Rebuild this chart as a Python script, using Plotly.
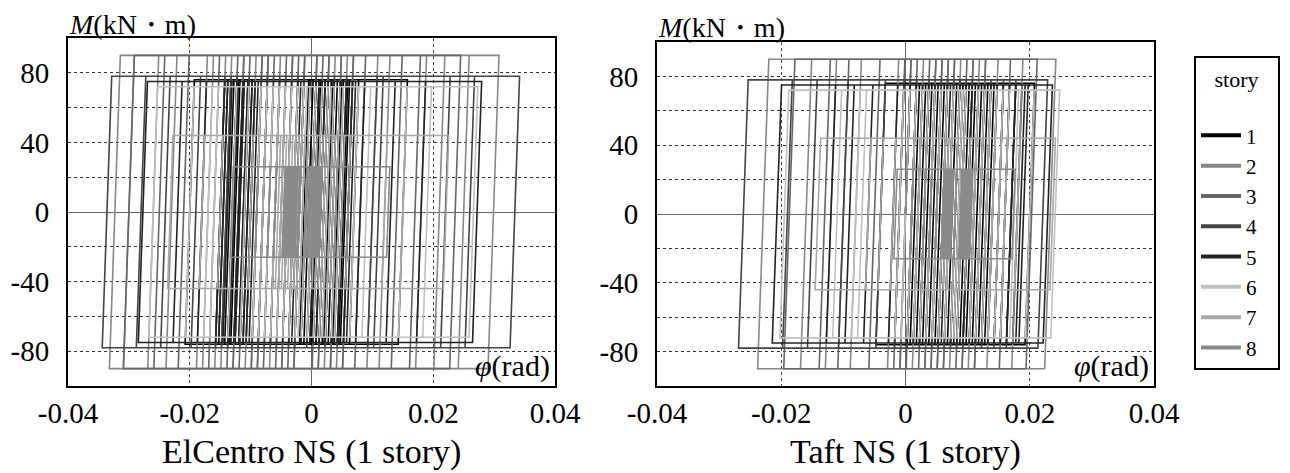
import plotly.graph_objects as go

# ---------------- data ----------------
stories = ["1", "2", "3", "4", "5", "6", "7", "8"]
story_colors = ["#000000", "#888888", "#666666", "#444444", "#222222", "#c0c0c0", "#a8a8a8", "#8a8a8a"]
# yield moments (kN·m) per story
yield_moment = [76, 90, 90, 78, 75, 72, 44, 26]
# elastic rotational stiffness (kN·m/rad)
K = 100000.0

# plastic rotation at each reversal (rad), ElCentro NS
ec_s1 = [0.0030, -0.0020, 0.0050, -0.0110, -0.0060, -0.0140, -0.0120, -0.0200, -0.0130, -0.0150,
         -0.0100, -0.0125, -0.0080, -0.0118, 0.0020, -0.0010, 0.0060, 0.0010, 0.0150, 0.0040,
         0.0070, -0.0005, 0.0035, 0.0000, 0.0045, 0.0015, 0.0055, 0.0025, 0.0030,
         -0.0135, -0.0105, -0.0145, -0.0112, -0.0128, 0.0005, -0.0020, 0.0042, 0.0008, 0.0052,
         -0.0012, 0.0028]
ec_s2 = [0.0040, -0.0060, 0.0020, -0.0150, -0.0080, -0.0230, -0.0170, -0.0323, -0.0260, -0.0300,
         -0.0120, -0.0180, 0.0050, -0.0020, 0.0180, 0.0100, 0.0299, 0.0210, 0.0250, 0.0060,
         0.0120, -0.0040, 0.0030, -0.0100, -0.0060, -0.0140, -0.0090]
ec_s3 = [0.0060, -0.0040, 0.0010, -0.0130, -0.0090, -0.0300, -0.0210, -0.0250, -0.0110, -0.0160,
         0.0080, 0.0020, 0.0236, 0.0140, 0.0170, -0.0020, 0.0040, -0.0070, -0.0030, -0.0120,
         -0.0050, -0.0080]
ec_s4 = [0.0020, -0.0080, -0.0030, -0.0190, -0.0140, -0.0336, -0.0240, -0.0280, -0.0090, -0.0150,
         0.0100, 0.0030, 0.0334, 0.0220, 0.0260, 0.0050, 0.0110, -0.0060, 0.0000, -0.0130,
         -0.0070, -0.0110, -0.0020, -0.0050]
ec_s5 = [0.0050, -0.0030, 0.0020, -0.0120, -0.0100, -0.0277, -0.0180, -0.0220, -0.0130, -0.0145,
         0.0060, -0.0010, 0.0272, 0.0130, 0.0180, 0.0030, 0.0080, -0.0040, 0.0010, -0.0105,
         -0.0095, -0.0128, -0.0112, -0.0150, -0.0118, -0.0138, 0.0040, 0.0005, 0.0065, -0.0025,
         0.0015]
ec_s6 = [0.0040, -0.0050, -0.0010, -0.0170, -0.0110, -0.0260, -0.0160, -0.0200, -0.0060, -0.0090,
         0.0070, 0.0000, 0.0266, 0.0150, 0.0190, 0.0020, 0.0090, -0.0030, 0.0030, -0.0080,
         -0.0040, -0.0070, -0.0020, -0.0110, -0.0040, -0.0130, 0.0010, -0.0050, 0.0045, -0.0015,
         0.0025]
ec_s7 = [0.0030, -0.0040, 0.0010, -0.0100, -0.0060, -0.0232, -0.0150, -0.0180, -0.0050, -0.0080,
         0.0050, -0.0020, 0.0221, 0.0120, 0.0150, 0.0000, 0.0060, -0.0035, 0.0040, -0.0025,
         0.0020, -0.0045, 0.0005, -0.0030, 0.0030, -0.0055, 0.0010, -0.0040, 0.0035, -0.0010,
         0.0015, -0.0060, -0.0015]
ec_s8 = [0.0010, -0.0030, -0.0005, -0.0060, -0.0020, -0.0131, -0.0070, -0.0090, -0.0030, -0.0046,
         0.0015, -0.0040, 0.0126, 0.0040, 0.0060, -0.0010, 0.0012, -0.0038, 0.0008, -0.0042,
         0.0005, -0.0035, 0.0010, -0.0044, 0.0002, -0.0028, 0.0014, -0.0040, -0.0004, -0.0036,
         0.0006, -0.0025, 0.0012, -0.0045, -0.0008, -0.0032, 0.0009, -0.0020, 0.0011, -0.0043,
         0.0004, -0.0039, 0.0013, -0.0033, 0.0007, -0.0046, 0.0003, -0.0027, 0.0015, -0.0041,
         -0.0002, -0.0037, 0.0010, -0.0030, 0.0012, -0.0044, 0.0001, -0.0022]

# plastic rotation at each reversal (rad), Taft NS
tf_s1 = [0.0040, 0.0010, 0.0080, 0.0030, 0.0120, 0.0050, 0.0090, -0.0040, 0.0020, -0.0010,
         0.0150, 0.0100, 0.0200, 0.0110, 0.0140, 0.0060, 0.0130, 0.0070, 0.0170, 0.0095,
         0.0125, 0.0085, 0.0180, 0.0115, 0.0135, 0.0045, 0.0105, 0.0015, 0.0075, 0.0035,
         0.0160, 0.0055, 0.0110, 0.0025, 0.0090]
tf_s2 = [0.0050, 0.0000, 0.0100, -0.0080, -0.0020, -0.0229, -0.0120, -0.0160, 0.0060, 0.0020,
         0.0233, 0.0120, 0.0180, 0.0070, 0.0140, 0.0040, 0.0110, 0.0080]
tf_s3 = [0.0030, -0.0010, 0.0070, -0.0050, 0.0000, -0.0187, -0.0100, -0.0130, 0.0040, 0.0010,
         0.0203, 0.0090, 0.0160, 0.0050, 0.0120, 0.0060, 0.0100]
tf_s4 = [0.0060, 0.0010, 0.0080, -0.0100, -0.0040, -0.0261, -0.0150, -0.0190, 0.0050, -0.0010,
         0.0221, 0.0100, 0.0170, 0.0030, 0.0130, 0.0070, 0.0150, 0.0090]
tf_s5 = [0.0020, -0.0020, 0.0060, -0.0060, 0.0010, -0.0207, -0.0090, -0.0120, 0.0080, 0.0030,
         0.0229, 0.0140, 0.0190, 0.0060, 0.0160, 0.0100, 0.0170, 0.0120, 0.0150, 0.0040,
         0.0130, 0.0020, 0.0110, 0.0065, 0.0185, 0.0090]
tf_s6 = [0.0040, 0.0000, 0.0090, -0.0070, -0.0010, -0.0195, -0.0080, -0.0110, 0.0070, 0.0020,
         0.0241, 0.0130, 0.0200, 0.0050, 0.0150, 0.0080, 0.0160, 0.0110, 0.0140, 0.0030,
         0.0120, 0.0060, 0.0175, 0.0085, 0.0130, 0.0010, 0.0070]
tf_s7 = [0.0050, 0.0010, 0.0080, -0.0040, 0.0030, -0.0141, -0.0020, -0.0060, 0.0100, 0.0040,
         0.0237, 0.0120, 0.0180, 0.0070, 0.0150, 0.0090, 0.0130, 0.0060, 0.0110, 0.0050,
         0.0140, 0.0080, 0.0120, 0.0020, 0.0100, 0.0065, 0.0160, 0.0090]
tf_s8 = [0.0040, 0.0010, 0.0070, -0.0016, 0.0050, 0.0030, 0.0090, 0.0060, 0.0174, 0.0080,
         0.0100, 0.0062, 0.0095, 0.0065, 0.0098, 0.0070, 0.0102, 0.0061, 0.0092, 0.0068,
         0.0105, 0.0064, 0.0097, 0.0072, 0.0100, 0.0063, 0.0088, 0.0066, 0.0099, 0.0070,
         0.0094, 0.0075, 0.0103, 0.0067, 0.0101, 0.0064, 0.0096, 0.0069, 0.0104, 0.0062,
         0.0091, 0.0073, 0.0099, 0.0066, 0.0093, 0.0061, 0.0106, 0.0071, 0.0098, 0.0065]

elcentro = [ec_s1, ec_s2, ec_s3, ec_s4, ec_s5, ec_s6, ec_s7, ec_s8]
taft = [tf_s1, tf_s2, tf_s3, tf_s4, tf_s5, tf_s6, tf_s7, tf_s8]

x_ticks = [-0.04, -0.02, 0, 0.02, 0.04]
x_ticktext = ["-0.04", "-0.02", "0", "0.02", "0.04"]
y_ticks = [-80, -40, 0, 40, 80]
y_ticktext = ["-80", "-40", "0", "40", "80"]
y_minor = [-100, -60, -20, 20, 60, 100]

panel_titles = ["ElCentro NS (1 story)", "Taft NS (1 story)"]


def hysteresis_path(my, reversals):
    """Elastic-perfectly-plastic path through the given reversal points."""
    e = my / K
    xs, ys = [0.0, e], [0.0, my]
    on_top = True
    for p in reversals:
        if on_top:
            xs += [p + e, p - e]
            ys += [my, -my]
        else:
            xs += [p - e, p + e]
            ys += [-my, my]
        on_top = not on_top
    return xs, ys


SERIF = "Liberation Serif, Times New Roman, serif"
# the page body has an 8 px margin, so the figure is placed at (8, 8) in the window
OFF = 8
W, H = 1290 - OFF, 473 - OFF


def px(xp):
    return (xp - OFF) / W


def py(yp):
    return 1 - (yp - OFF) / H


fig = go.Figure()
for panel, (series, xa, ya) in enumerate([(elcentro, "x", "y"), (taft, "x2", "y2")]):
    for i, rev in enumerate(series):
        xs, ys = hysteresis_path(yield_moment[i], rev)
        fig.add_trace(go.Scatter(x=xs, y=ys, mode="lines", xaxis=xa, yaxis=ya,
                                 line=dict(color=story_colors[i], width=1.6),
                                 showlegend=False, hoverinfo="skip"))

# legend entries
for i, s in enumerate(stories):
    fig.add_trace(go.Scatter(x=[None], y=[None], mode="lines", name=s + "\u00a0\u00a0\u00a0",
                             line=dict(color=story_colors[i], width=4),
                             xaxis="x", yaxis="y", showlegend=True))

axis_common = dict(showline=True, linecolor="black", linewidth=2, mirror=True,
                   automargin=False, ticks="",
                   tickfont=dict(family=SERIF, size=29, color="black"))
xcommon = dict(axis_common, range=[-0.04, 0.04], tickvals=x_ticks, ticktext=x_ticktext,
               showgrid=True, gridcolor="#444", griddash="dot", gridwidth=1,
               zeroline=True, zerolinecolor="#666", zerolinewidth=1.2, ticklabelstandoff=0)
ycommon = dict(axis_common, range=[-100, 100], tickvals=y_ticks, ticktext=y_ticktext,
               showgrid=True, gridcolor="#333", griddash="dot", gridwidth=1,
               zeroline=True, zerolinecolor="#666", zerolinewidth=1.2, ticklabelstandoff=11,
               minor=dict(tickvals=y_minor, showgrid=True, gridcolor="#333",
                          griddash="dot", gridwidth=1, ticks=""))

x1_dom = [px(68), px(555)]
x2_dom = [px(657), px(1154)]
y_dom = [py(386), py(38)]
y2_dom = [py(386), py(42)]

fig.update_layout(
    width=W, height=H,
    margin=dict(l=0, r=0, t=0, b=0, autoexpand=False),
    paper_bgcolor="white", plot_bgcolor="white",
    xaxis=dict(xcommon, domain=x1_dom, anchor="y"),
    yaxis=dict(ycommon, domain=y_dom, anchor="x"),
    xaxis2=dict(xcommon, domain=x2_dom, anchor="y2"),
    yaxis2=dict(ycommon, domain=y2_dom, anchor="x2"),
    legend=dict(x=px(1194), y=py(56), xanchor="left", yanchor="top",
                bordercolor="black", borderwidth=2, bgcolor="white",
                font=dict(family=SERIF, size=21, color="black"),
                title=dict(text="   story<br> ", font=dict(family=SERIF, size=22, color="black"),
                           side="top"),
                tracegroupgap=0, itemwidth=40),
    showlegend=True,
)

annotations = []
for (dx, title, top_px) in [(x1_dom, panel_titles[0], 38), (x2_dom, panel_titles[1], 42)]:
    annotations.append(dict(text=title, x=(dx[0] + dx[1]) / 2, y=py(452),
                            xref="paper", yref="paper", xanchor="center", yanchor="middle",
                            showarrow=False, font=dict(family=SERIF, size=34, color="black")))
    annotations.append(dict(text="<i>M</i>(kN・m)", x=dx[0] - 1 / W, y=py(top_px - 14),
                            xref="paper", yref="paper", xanchor="left", yanchor="middle",
                            showarrow=False, font=dict(family=SERIF, size=28, color="black")))
    annotations.append(dict(text="<i>φ</i>(rad)", x=dx[1] - 3 / W, y=py(366),
                            xref="paper", yref="paper", xanchor="right", yanchor="middle",
                            showarrow=False, font=dict(family=SERIF, size=30, color="black")))
fig.update_layout(annotations=annotations)

fig.write_html("out.html")
